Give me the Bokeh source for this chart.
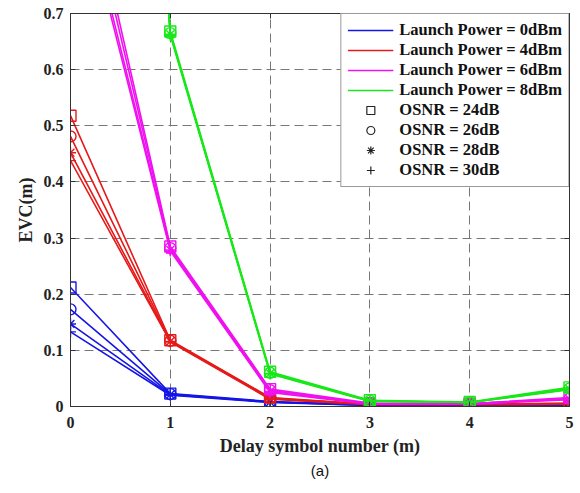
from bokeh.plotting import figure
from bokeh.models import (Range1d, FixedTicker, Legend, LegendItem, Title, LinearAxis)
from bokeh.embed import file_html
from bokeh.resources import INLINE

# ---------------- data ----------------
delay = [0, 1, 2, 3, 4, 5]
power_labels = ["Launch Power = 0dBm", "Launch Power = 4dBm",
                "Launch Power = 6dBm", "Launch Power = 8dBm"]
osnr_labels = ["OSNR = 24dB", "OSNR = 26dB", "OSNR = 28dB", "OSNR = 30dB"]

# rows: OSNR 24, 26, 28, 30 dB
evc_0dBm = [
    [0.212, 0.023, 0.009, 0.003, 0.002, 0.001],
    [0.173, 0.022, 0.008, 0.003, 0.002, 0.001],
    [0.147, 0.021, 0.008, 0.002, 0.002, 0.001],
    [0.133, 0.020, 0.007, 0.002, 0.002, 0.001],
]
evc_4dBm = [
    [0.518, 0.118, 0.016, 0.004, 0.004, 0.006],
    [0.481, 0.117, 0.015, 0.004, 0.004, 0.005],
    [0.452, 0.116, 0.014, 0.004, 0.004, 0.005],
    [0.438, 0.115, 0.013, 0.003, 0.003, 0.004],
]
evc_6dBm = [
    [1.07, 0.285, 0.031, 0.006, 0.005, 0.016],
    [1.04, 0.282, 0.029, 0.005, 0.005, 0.014],
    [1.00, 0.279, 0.027, 0.005, 0.005, 0.013],
    [0.98, 0.277, 0.025, 0.004, 0.004, 0.012],
]
evc_8dBm = [
    [3.2, 0.668, 0.062, 0.011, 0.008, 0.034],
    [3.1, 0.665, 0.060, 0.010, 0.007, 0.032],
    [3.0, 0.663, 0.059, 0.010, 0.007, 0.031],
    [2.9, 0.661, 0.058, 0.009, 0.007, 0.030],
]
y_ticks = [0, 0.1, 0.2, 0.3, 0.4, 0.5, 0.6, 0.7]
x_ticks = [0, 1, 2, 3, 4, 5]

# ---------------- style ----------------
colors = ["#1515e6", "#e61a1a", "#f010f0", "#18e818"]
markers = ["square", "circle", "asterisk", "cross"]
SERIF = "Liberation Serif"

p = figure(width=580, height=493, output_backend="svg", toolbar_location=None,
           x_range=Range1d(0, 5), y_range=Range1d(0, 0.7),
           min_border_left=70, min_border_right=11, min_border_top=13,
           min_border_bottom=87)
p.background_fill_color = "white"
p.border_fill_color = "white"
p.outline_line_color = "#333333"
p.outline_line_width = 1

for ax in (p.xaxis[0], p.yaxis[0]):
    ax.major_label_text_font = SERIF
    ax.major_label_text_font_style = "bold"
    ax.major_label_text_font_size = "16px"
    ax.major_label_text_color = "#222222"
    ax.axis_label_text_font = SERIF
    ax.axis_label_text_font_style = "bold"
    ax.axis_label_text_font_size = "18px"
    ax.axis_label_text_color = "#222222"
    ax.axis_line_color = "#333333"
    ax.major_tick_in = 5
    ax.major_tick_out = 0
    ax.minor_tick_line_color = None
    ax.major_tick_line_color = "#333333"

p.xaxis[0].ticker = FixedTicker(ticks=x_ticks)
p.yaxis[0].ticker = FixedTicker(ticks=y_ticks)
p.yaxis[0].major_label_overrides = {0: "0"}
p.xaxis[0].axis_label = "Delay symbol number (m)"
p.yaxis[0].axis_label = "EVC(m)"
p.xaxis[0].major_label_standoff = 10
p.xaxis[0].axis_label_standoff = 5
p.yaxis[0].major_label_standoff = 7
p.yaxis[0].axis_label_standoff = 5

for loc in ("above", "right"):
    ax = LinearAxis(ticker=FixedTicker(ticks=x_ticks if loc == "above" else y_ticks),
                    major_label_text_font_size="0px", major_tick_in=5, major_tick_out=0,
                    minor_tick_line_color=None, axis_line_color="#333333",
                    major_label_standoff=0, major_tick_line_color="#333333")
    p.add_layout(ax, loc)

p.xgrid.ticker = FixedTicker(ticks=x_ticks)
p.ygrid.ticker = FixedTicker(ticks=y_ticks)
for g in (p.xgrid[0], p.ygrid[0]):
    g.grid_line_color = "#777777"
    g.grid_line_dash = "9 5"
    g.grid_line_width = 1

p.add_layout(Title(text="(a)", align="center", text_font="Liberation Sans",
                   text_font_style="normal", text_font_size="15px",
                   text_color="#111111", standoff=2, offset=0), "below")

all_series = [evc_0dBm, evc_4dBm, evc_6dBm, evc_8dBm]
for ci, series in enumerate(all_series):
    for oi, vals in enumerate(series):
        p.line(delay, vals, line_color=colors[ci], line_width=1.6)
        p.scatter(delay, vals, marker=markers[oi], size=11,
                  line_color=colors[ci], fill_color=None, line_width=1.4)

# legend proxies (outside visible range)
items = []
for ci in range(4):
    r = p.line([-10, -9], [-10, -10], line_color=colors[ci], line_width=1.6)
    items.append(LegendItem(label=power_labels[ci], renderers=[r]))
for oi in range(4):
    r = p.scatter([-10], [-10], marker=markers[oi], size=10,
                  line_color="#222222", fill_color=None, line_width=1.2)
    items.append(LegendItem(label=osnr_labels[oi], renderers=[r]))

legend = Legend(items=items, location="top_right", margin=0, padding=6,
                spacing=0, glyph_width=46, glyph_height=20, label_height=20,
                label_standoff=6, label_text_font=SERIF,
                label_text_font_style="bold", label_text_font_size="16.5px",
                label_text_color="#111111", border_line_color="#333333",
                border_line_width=1, background_fill_color="white",
                background_fill_alpha=1.0)
p.add_layout(legend, "center")

open("out.html", "w").write(file_html(p, INLINE))
